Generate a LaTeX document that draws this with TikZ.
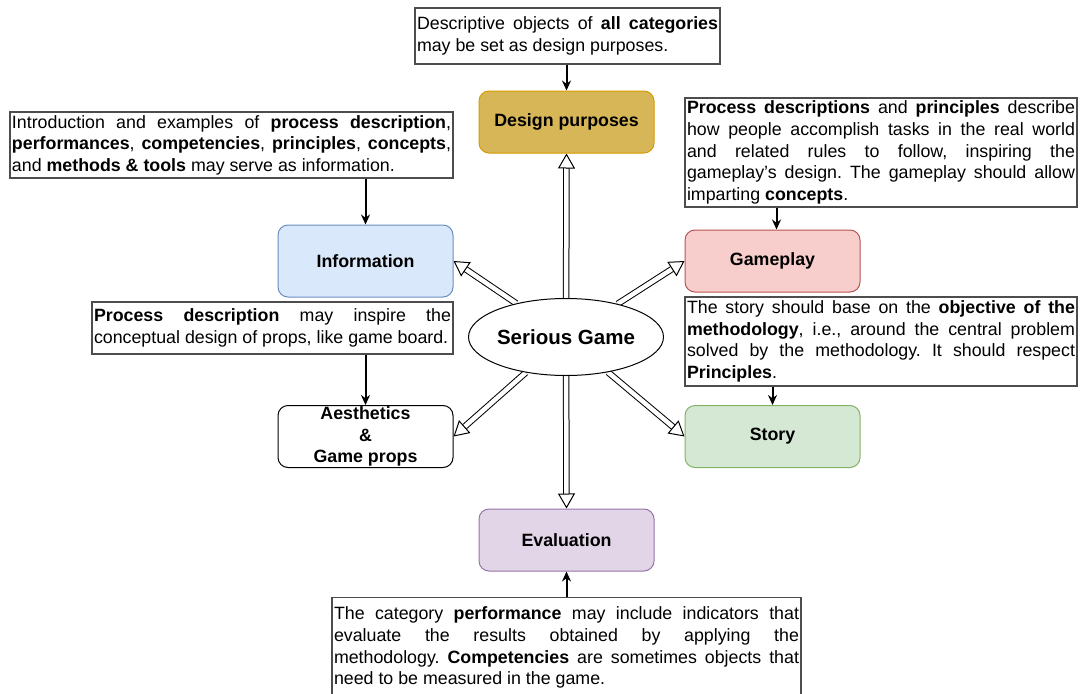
\documentclass[tikz,border=0pt]{standalone}
\usepackage{fontspec}
\setmainfont{Liberation Sans}
\usetikzlibrary{shapes.geometric, arrows.meta, positioning, calc, backgrounds}
\definecolor{goldfill}{HTML}{D6B656}
\definecolor{goldline}{HTML}{D79B00}
\definecolor{bluefill}{HTML}{DAE8FC}
\definecolor{blueline}{HTML}{6C8EBF}
\definecolor{redfill}{HTML}{F8CECC}
\definecolor{redline}{HTML}{B85450}
\definecolor{greenfill}{HTML}{D5E8D4}
\definecolor{greenline}{HTML}{82B366}
\definecolor{purplefill}{HTML}{E1D5E7}
\definecolor{purpleline}{HTML}{9673A6}
\definecolor{noteline}{HTML}{4D4D4D}
\newcommand{\dgfont}{\fontsize{17.8}{21.6}\selectfont\frenchspacing}

\begin{document}
\begin{tikzpicture}[
    x=1pt, y=-1pt,
    part/.style={rectangle, rounded corners=10pt, line width=1pt, minimum width=175pt, minimum height=62pt, align=center, font=\dgfont\bfseries, inner sep=0pt},
    note/.style={rectangle, draw=noteline, line width=1.3pt, align=justify, font=\dgfont, inner xsep=2pt, inner ysep=0pt},
    core/.style={ellipse, draw, line width=1pt, fill=white, minimum width=153pt, minimum height=77pt, inner sep=0pt, font=\fontsize{20.5}{24}\selectfont\bfseries},
    arr/.style={-{Stealth[length=10pt, width=9pt]}, line width=2pt},
    hollow/.style={double, double distance=4.5pt, line width=1pt, -{Triangle[open, length=15pt, width=17pt]}},
]
    \useasboundingbox (0,0) rectangle (1083,693);

    \node[core] (sg) at (566,337) {Serious Game};
    \node[part, draw=goldline, fill=goldfill] (design) at (566.5,122) {Design purposes};
    \node[part, draw=blueline, fill=bluefill, minimum height=72pt] (info) at (365.5,261) {Information};
    \node[part, draw=redline, fill=redfill] (gameplay) at (772.5,261) {Gameplay};
    \node[part, draw, fill=white] (props) at (365.5,436.5) {Aesthetics\\\&\\Game props};
    \node[part, draw=greenline, fill=greenfill] (story) at (772.5,436.5) {Story};
    \node[part, draw=purpleline, fill=purplefill] (eval) at (566.5,540) {Evaluation};

    % Notes
    \node[note, text width=301pt, minimum height=56pt] (designnote) at (567.5,36)
        {Descriptive objects of \textbf{all categories}\linebreak may be set as design purposes.};
    \node[note, text width=439pt, minimum height=66pt] (infonote) at (231.5,145)
        {Introduction and examples of \textbf{process description},\linebreak \textbf{performances}, \textbf{competencies}, \textbf{principles}, \textbf{concepts},\linebreak and \textbf{methods \& tools} may serve as information.};
    \node[note, text width=388pt, minimum height=109pt] (gamenote) at (881,152.5)
        {\textbf{Process descriptions} and \textbf{principles} describe\linebreak how people accomplish tasks in the real world\linebreak and related rules to follow, inspiring the\linebreak gameplay’s design. The gameplay should allow\linebreak imparting \textbf{concepts}.};
    \node[note, text width=357pt, minimum height=52pt] (propsnote) at (272.5,328)
        {\textbf{Process description} may inspire the\linebreak conceptual design of props, like game board.};
    \node[note, text width=388pt, minimum height=89pt] (storynote) at (881,341.5)
        {The story should base on the \textbf{objective of the}\linebreak \textbf{methodology}, i.e., around the central problem\linebreak solved by the methodology. It should respect\linebreak \textbf{Principles}.};
    \node[note, text width=465pt, minimum height=100pt, anchor=north] (evalnote) at (566.5,597)
        {The category \textbf{performance} may include indicators that\linebreak evaluate the results obtained by applying the\linebreak methodology. \textbf{Competencies} are sometimes objects that\linebreak need to be measured in the game.};

    \draw[arr] (designnote.south -| design.north) -- (design.north);
    \draw[arr] (infonote.south -| info.north) -- (info.north);
    \draw[arr] ([xshift=4pt]gamenote.south -| gameplay.north) -- ([xshift=4pt]gameplay.north);
    \draw[arr] (storynote.south -| story.north) -- (story.north);
    \draw[arr] (propsnote.south -| props.north) -- (props.north);
    \draw[arr] (evalnote.north -| eval.south) -- (eval.south);

    % Hollow arrows out of the core
    \begin{scope}[on background layer]
        \foreach \dst/\side in {design/south, info/east, gameplay/west, props/east, story/west, eval/north}
            \draw[hollow] (sg) -- (\dst.\side);
    \end{scope}
\end{tikzpicture}
\end{document}
